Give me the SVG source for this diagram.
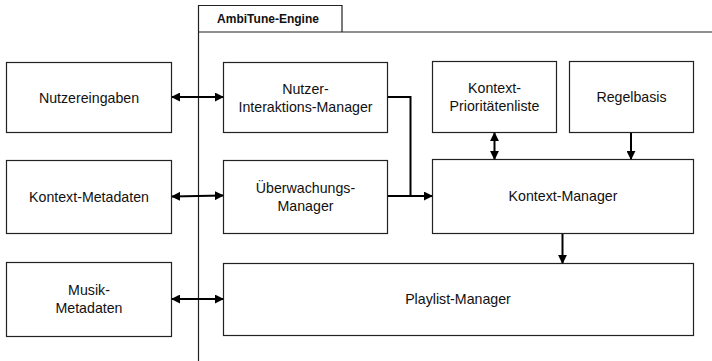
<svg xmlns="http://www.w3.org/2000/svg" width="712" height="361" viewBox="0 0 712 361">
  <style>
    .box { fill: #ffffff; stroke: #222222; stroke-width: 1.2; }
    .frame { fill: none; stroke: #222222; stroke-width: 1.2; }
    .lbl { font-family: "Liberation Sans", Arial, sans-serif; font-size: 14.2px; fill: #111111; text-anchor: middle; }
    .title { font-family: "Liberation Sans", Arial, sans-serif; font-size: 12px; font-weight: bold; fill: #111111; text-anchor: middle; }
    .conn { fill: none; stroke: #000000; stroke-width: 2; }
  </style>
  <defs>
    <marker id="arrow" viewBox="0 0 10 10" refX="9" refY="5" markerWidth="4.5" markerHeight="4.5" orient="auto-start-reverse" markerUnits="strokeWidth">
      <path d="M0,0 L10,5 L0,10 Z" fill="#000000"/>
    </marker>
  </defs>
  <rect width="712" height="361" fill="#ffffff"/>

  <!-- engine frame with title tab -->
  <g id="engine-frame">
    <path class="frame" d="M198.5,361 V5.5 H342 V32"/>
    <path class="frame" d="M198.5,32 H712"/>
    <text class="title" x="268" y="23">AmbiTune-Engine</text>
  </g>

  <!-- external inputs -->
  <g id="nutzereingaben">
    <rect class="box" x="6.5" y="62.5" width="165" height="70"/>
    <text class="lbl" x="89" y="103">Nutzereingaben</text>
  </g>
  <g id="kontext-metadaten">
    <rect class="box" x="6.5" y="160.5" width="165" height="73"/>
    <text class="lbl" x="89" y="202">Kontext-Metadaten</text>
  </g>
  <g id="musik-metadaten">
    <rect class="box" x="6.5" y="262.5" width="165" height="74"/>
    <text class="lbl" x="89" y="295">Musik-</text>
    <text class="lbl" x="89" y="313">Metadaten</text>
  </g>

  <!-- engine components -->
  <g id="nutzer-interaktions-manager">
    <rect class="box" x="223.5" y="62.5" width="164" height="70"/>
    <text class="lbl" x="305.5" y="94">Nutzer-</text>
    <text class="lbl" x="305.5" y="112">Interaktions-Manager</text>
  </g>
  <g id="ueberwachungs-manager">
    <rect class="box" x="223.5" y="160.5" width="164" height="73"/>
    <text class="lbl" x="305.5" y="193">Überwachungs-</text>
    <text class="lbl" x="305.5" y="211">Manager</text>
  </g>
  <g id="kontext-prioritaetenliste">
    <rect class="box" x="432.5" y="61.5" width="124" height="71"/>
    <text class="lbl" x="494.5" y="93">Kontext-</text>
    <text class="lbl" x="494.5" y="111">Prioritätenliste</text>
  </g>
  <g id="regelbasis">
    <rect class="box" x="569.5" y="61.5" width="124" height="71"/>
    <text class="lbl" x="631.5" y="102">Regelbasis</text>
  </g>
  <g id="kontext-manager">
    <rect class="box" x="432.5" y="159.5" width="261" height="74"/>
    <text class="lbl" x="563" y="201">Kontext-Manager</text>
  </g>
  <g id="playlist-manager">
    <rect class="box" x="223.5" y="263.5" width="470" height="72"/>
    <text class="lbl" x="458" y="304">Playlist-Manager</text>
  </g>

  <!-- connectors -->
  <g id="connectors">
    <line class="conn" x1="172" y1="97" x2="223" y2="97" marker-start="url(#arrow)" marker-end="url(#arrow)"/>
    <line class="conn" x1="172" y1="196.5" x2="223" y2="195.5" marker-start="url(#arrow)" marker-end="url(#arrow)"/>
    <line class="conn" x1="172" y1="299" x2="223" y2="299" marker-start="url(#arrow)" marker-end="url(#arrow)"/>
    <path class="conn" d="M388,97 H410.5 V196"/>
    <line class="conn" x1="388" y1="196" x2="432" y2="196" marker-end="url(#arrow)"/>
    <line class="conn" x1="494.5" y1="133" x2="494.5" y2="159" marker-start="url(#arrow)" marker-end="url(#arrow)"/>
    <line class="conn" x1="631" y1="133" x2="631" y2="159" marker-end="url(#arrow)"/>
    <line class="conn" x1="562.5" y1="234" x2="562.5" y2="263" marker-end="url(#arrow)"/>
  </g>
</svg>
